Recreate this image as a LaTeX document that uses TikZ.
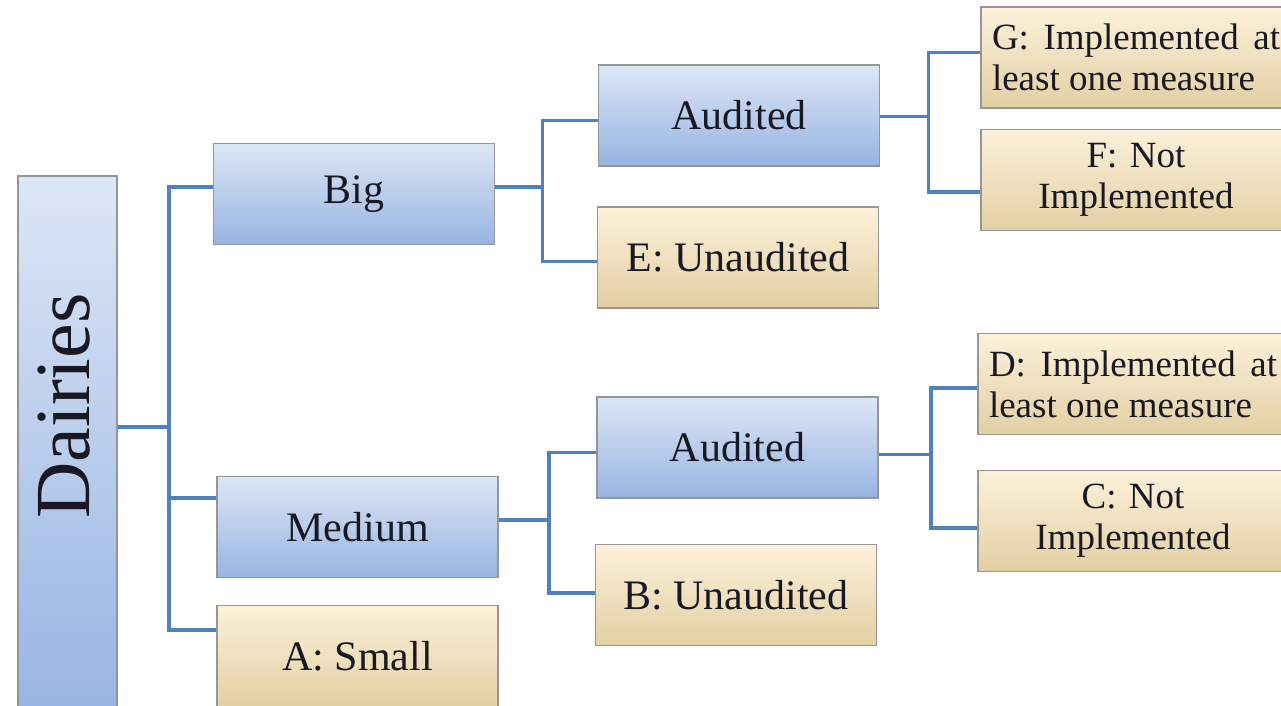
\documentclass[tikz,border=0pt]{standalone}
\usepackage{fontspec}
\setmainfont{Liberation Serif}
\usetikzlibrary{calc}
\definecolor{bluetop}{RGB}{221,230,246}
\definecolor{bluebot}{RGB}{151,180,226}
\definecolor{tantop}{RGB}{253,241,218}
\definecolor{tanbot}{RGB}{226,207,163}
\definecolor{boxgray}{RGB}{150,150,150}
\definecolor{linkblue}{RGB}{79,129,189}
\definecolor{inkdark}{RGB}{25,25,35}

\begin{document}
\begin{tikzpicture}[x=1pt, y=-1pt,
        bluebox/.style={rectangle, draw=boxgray, line width=1.5pt, top color=bluetop, bottom color=bluebot,
                        minimum width=281pt, minimum height=101pt, inner sep=0pt, align=center,
                        text=inkdark, font=\fontsize{42}{46}\selectfont},
        tanbox/.style={rectangle, draw=boxgray, line width=1.5pt, top color=tantop, bottom color=tanbot,
                       minimum width=281pt, minimum height=101pt, inner sep=0pt, align=center,
                       text=inkdark, font=\fontsize{42}{46}\selectfont},
        widebox/.style={tanbox, minimum width=310pt, text width=288pt,
                        font=\fontsize{37}{41}\selectfont},
        link/.style={draw=linkblue, line width=3.5pt}
      ]
        \useasboundingbox (0,0) rectangle (1281,706);
        \clip (0,0) rectangle (1281,706);

        \node[bluebox, minimum width=99pt, minimum height=544pt] (dairies) at (67.5,448) {};
        \node[rotate=90, text=inkdark, font=\fontsize{78}{80}\selectfont] (dairieslbl) at (64,406) {Dairies};

        \node[bluebox] (big)    at (354,194)   {Big};
        \node[bluebox] (medium) at (357.5,527) {Medium};
        \node[tanbox]  (small)  at (357.5,656) {A: Small};

        \node[bluebox] (audtop)  at (739,115.5) {Audited};
        \node[tanbox]  (unaudE)  at (738,257.5) {E: Unaudited};
        \node[bluebox] (audlow)  at (737.5,447.5) {Audited};
        \node[tanbox]  (unaudB)  at (736,595)   {B: Unaudited};

        \node[widebox, align=justify] (implG) at (1136,57.5) {G: Implemented at least one measure};
        \node[widebox] (notF)  at (1136,180) {F: Not\\Implemented};
        \node[widebox, align=justify] (implD) at (1133,384) {D: Implemented at least one measure};
        \node[widebox] (notC)  at (1133,521) {C: Not\\Implemented};

        % size split
        \draw[link] ($(dairies.east)+(0,-21)$) -- ++(51,0) coordinate (jsize);
        \draw[link] (jsize) |- ($(big.west)+(0,-7)$);
        \draw[link] (jsize) |- ($(medium.west)+(0,-29)$);
        \draw[link] (jsize) |- ($(small.west)+(0,-26)$);

        % audit split
        \draw[link] ($(big.east)+(0,-7)$) -- ++(47,0) coordinate (jbig);
        \draw[link] (jbig) |- ($(audtop.west)+(0,5)$);
        \draw[link] (jbig) |- ($(unaudE.west)+(0,4)$);
        \draw[link] ($(medium.east)+(0,-7)$) -- ++(50,0) coordinate (jmed);
        \draw[link] (jmed) |- ($(audlow.west)+(0,5)$);
        \draw[link] (jmed) |- ($(unaudB.west)+(0,-2)$);

        % measures
        \draw[link] ($(audtop.east)+(0,1)$) -- ++(48,0) coordinate (jtop);
        \draw[link] (jtop) |- ($(implG.west)+(0,-5)$);
        \draw[link] (jtop) |- ($(notF.west)+(0,12)$);
        \draw[link] ($(audlow.east)+(0,7)$) -- ++(52,0) coordinate (jlow);
        \draw[link] (jlow) |- ($(implD.west)+(0,4)$);
        \draw[link] (jlow) |- ($(notC.west)+(0,7)$);
      \end{tikzpicture}
\end{document}
